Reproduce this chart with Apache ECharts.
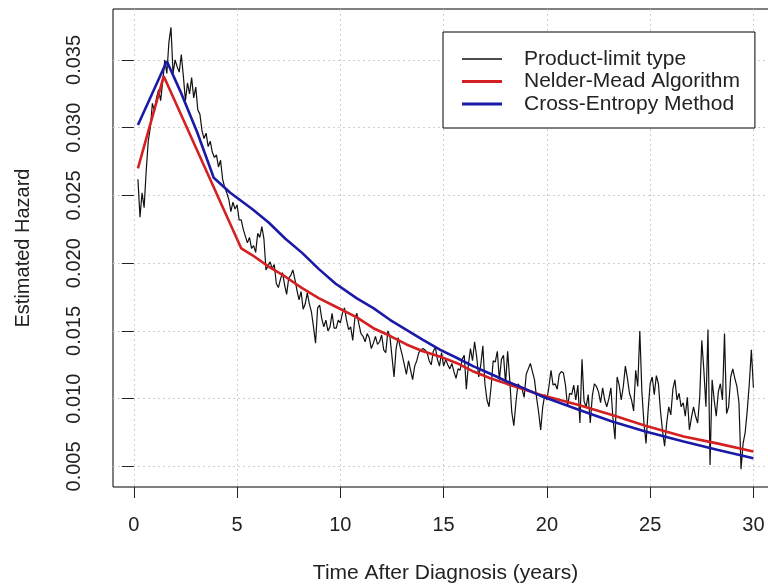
<!DOCTYPE html>
<html>
<head>
<meta charset="utf-8">
<script src="https://cdn.jsdelivr.net/npm/echarts@6/dist/echarts.min.js"></script>
<style>
  html, body { margin: 0; padding: 0; background: #ffffff; }
  #chart { width: 768px; height: 586px; }
</style>
</head>
<body>
<div id="chart"></div>
<script>
// Product-limit type hazard estimate, sampled every 0.1 years from 0.2 to 30.0
const plTimeStart = 0.2;
const plTimeStep = 0.1;
const plHazard = [
  0.0262, 0.0234, 0.0252, 0.0241, 0.0268, 0.0290, 0.0300, 0.0318, 0.0312,
  0.0322, 0.0328, 0.0320, 0.0334, 0.0350, 0.0340, 0.0363, 0.0374, 0.0340, 0.0350,
  0.0345, 0.0341, 0.0354, 0.0338, 0.0320, 0.0333, 0.0325, 0.0337, 0.0322, 0.0330,
  0.0313, 0.0310, 0.0298, 0.0292, 0.0296, 0.0286, 0.0290, 0.0282, 0.0278, 0.0280,
  0.0271, 0.0276, 0.0262, 0.0256, 0.0252, 0.0247, 0.0238, 0.0245, 0.0240, 0.0243,
  0.0232, 0.0232, 0.0225, 0.0220, 0.0215, 0.0219, 0.0211, 0.0213, 0.0208, 0.0222,
  0.0219, 0.0227, 0.0218, 0.0195, 0.0198, 0.0201, 0.0196, 0.0199, 0.0185, 0.0182,
  0.0188, 0.0193, 0.0184, 0.0177, 0.0189, 0.0191, 0.0195, 0.0188, 0.0180, 0.0173,
  0.0179, 0.0166, 0.0170, 0.0178, 0.0170, 0.0164, 0.0153, 0.0141, 0.0167, 0.0169,
  0.0159, 0.0153, 0.0158, 0.0150, 0.0153, 0.0163, 0.0152, 0.0152, 0.0158, 0.0156,
  0.0163, 0.0167, 0.0158, 0.0151, 0.0153, 0.0143, 0.0159, 0.0163, 0.0155, 0.0148,
  0.0146, 0.0142, 0.0148, 0.0145, 0.0137, 0.0141, 0.0146, 0.0140, 0.0142, 0.0147,
  0.0136, 0.0134, 0.0150, 0.0146, 0.0131, 0.0116, 0.0137, 0.0145, 0.0138, 0.0132,
  0.0125, 0.0118, 0.0128, 0.0121, 0.0114, 0.0124, 0.0128, 0.0134, 0.0136, 0.0137,
  0.0136, 0.0134, 0.0128, 0.0125, 0.0135, 0.0138, 0.0129, 0.0124, 0.0134, 0.0124,
  0.0129, 0.0125, 0.0122, 0.0126, 0.0120, 0.0115, 0.0122, 0.0121, 0.0129, 0.0132,
  0.0107, 0.0125, 0.0137, 0.0128, 0.0142, 0.0131, 0.0116, 0.0125, 0.0139, 0.0111,
  0.0099, 0.0094, 0.0109, 0.0128, 0.0127, 0.0135, 0.0114, 0.0129, 0.0132, 0.0111,
  0.0135, 0.0114, 0.0090, 0.0080, 0.0097, 0.0111, 0.0109, 0.0107, 0.0101, 0.0118,
  0.0122, 0.0126, 0.0120, 0.0114, 0.0101, 0.0090, 0.0077, 0.0094, 0.0103, 0.0099,
  0.0109, 0.0121, 0.0110, 0.0111, 0.0107, 0.0118, 0.0120, 0.0119, 0.0110, 0.0094,
  0.0104, 0.0103, 0.0110, 0.0099, 0.0110, 0.0082, 0.0129, 0.0098, 0.0094, 0.0103,
  0.0082, 0.0102, 0.0111, 0.0109, 0.0105, 0.0097, 0.0108, 0.0099, 0.0094, 0.0100,
  0.0108, 0.0085, 0.0070, 0.0116, 0.0110, 0.0099, 0.0109, 0.0124, 0.0115, 0.0104,
  0.0099, 0.0091, 0.0121, 0.0109, 0.0150, 0.0105, 0.0082, 0.0067, 0.0091, 0.0111,
  0.0116, 0.0103, 0.0117, 0.0111, 0.0091, 0.0076, 0.0065, 0.0082, 0.0094, 0.0088,
  0.0107, 0.0114, 0.0099, 0.0104, 0.0094, 0.0097, 0.0087, 0.0101, 0.0077, 0.0086,
  0.0094, 0.0087, 0.0082, 0.0101, 0.0143, 0.0121, 0.0094, 0.0151, 0.0051, 0.0114,
  0.0099, 0.0087, 0.0105, 0.0111, 0.0099, 0.0148, 0.0089, 0.0094, 0.0116, 0.0122,
  0.0115, 0.0109, 0.0097, 0.0048, 0.0067, 0.0075, 0.0091, 0.0111, 0.0136, 0.0108
];

// Fitted hazard, Nelder-Mead algorithm
const nmTimes = [0.2, 1.45, 5.2, 5.73, 6.53, 7.34, 8.15, 8.95, 9.76, 10.8, 11.6, 12.4, 13.2, 14.0,
  14.84, 15.65, 16.45, 17.26, 18.07, 18.87, 19.68, 21.54, 23.16, 24.77, 26.62, 28.24, 30.0];
const nmHazard = [0.0270, 0.0338, 0.0211, 0.0206, 0.01975, 0.0190, 0.01816, 0.01742, 0.0168, 0.0160,
  0.0152, 0.01464, 0.0140, 0.0135, 0.0131, 0.01262, 0.0120, 0.01151, 0.01109, 0.0107, 0.01029,
  0.00954, 0.0088, 0.0080, 0.0072, 0.0067, 0.0061];

// Fitted hazard, cross-entropy method
const ceTimes = [0.2, 1.6, 2.25, 3.06, 3.87, 4.67, 5.73, 6.53, 7.34, 8.15, 8.95, 9.76, 10.8, 11.6,
  12.4, 13.2, 14.0, 14.84, 15.65, 16.45, 17.26, 18.07, 18.87, 19.68, 21.54, 23.16, 24.77, 26.62, 28.24, 30.0];
const ceHazard = [0.0302, 0.0349, 0.0327, 0.0297, 0.0263, 0.0252, 0.0240, 0.0230, 0.0218, 0.02076,
  0.01958, 0.01850, 0.0174, 0.01668, 0.01582, 0.01508, 0.01434, 0.0136, 0.0130, 0.01238, 0.01184,
  0.01127, 0.01078, 0.01022, 0.00918, 0.00832, 0.00758, 0.00684, 0.00623, 0.0056];

// Axis ticks
const xTicks = [0, 5, 10, 15, 20, 25, 30];
const yTicks = [0.005, 0.010, 0.015, 0.020, 0.025, 0.030, 0.035];

const seriesNames = ['Product-limit type', 'Nelder-Mead Algorithm', 'Cross-Entropy Method'];
const seriesColors = ['#111111', '#d42020', '#1a1aa6'];

const FONT = '"Liberation Sans", Arial, Helvetica, sans-serif';
const TEXT = '#222222';

const plData = plHazard.map((v, i) => [+(plTimeStart + i * plTimeStep).toFixed(2), v]);
const nmData = nmTimes.map((t, i) => [t, nmHazard[i]]);
const ceData = ceTimes.map((t, i) => [t, ceHazard[i]]);

// Legend keys: a plain horizontal stroke inside a 40x14 box (corner points keep the box size)
const thinKey = 'path://M0,0L0,0M0,6.25H40V7.75H0ZM40,14L40,14';
const thickKey = 'path://M0,0L0,0M0,5.5H40V8.5H0ZM40,14L40,14';

const gridLine = { show: true, lineStyle: { color: '#cfcfcf', width: 1, type: [2, 3] } };

const chart = echarts.init(document.getElementById('chart'), null, { renderer: 'canvas' });
chart.setOption({
  animation: false,
  backgroundColor: '#ffffff',
  grid: {
    left: 113, top: 9, width: 665, height: 478,
    outerBoundsMode: 'none', containLabel: false,
    show: true, borderColor: '#000000', borderWidth: 1, backgroundColor: 'transparent'
  },
  xAxis: {
    type: 'value', min: -1.007, max: 31.19,
    name: 'Time After Diagnosis (years)', nameLocation: 'middle', nameGap: 76,
    nameTextStyle: { fontFamily: FONT, fontSize: 21, color: TEXT },
    axisLine: { show: false },
    axisTick: { show: true, inside: false, length: 11, customValues: xTicks, lineStyle: { color: TEXT, width: 1 } },
    axisLabel: { customValues: xTicks, margin: 28, fontFamily: FONT, fontSize: 20, color: TEXT,
      formatter: v => String(v) },
    splitLine: gridLine
  },
  yAxis: {
    type: 'value', min: 0.00348, max: 0.03876,
    name: 'Estimated Hazard', nameLocation: 'middle', nameGap: 80, nameRotate: 90,
    nameTextStyle: { fontFamily: FONT, fontSize: 20, color: TEXT },
    axisLine: { show: false },
    axisTick: { show: true, inside: false, length: 12, customValues: yTicks, lineStyle: { color: TEXT, width: 1 } },
    axisLabel: { customValues: yTicks, rotate: 90, margin: 29, fontFamily: FONT, fontSize: 20, color: TEXT,
      formatter: v => v.toFixed(3) },
    splitLine: gridLine
  },
  legend: {
    orient: 'vertical', left: 443, top: 32,
    padding: [16, 15, 13, 19],
    backgroundColor: '#ffffff', borderColor: '#000000', borderWidth: 1, borderRadius: 0,
    itemWidth: 40, itemHeight: 14, itemGap: 0.5,
    itemStyle: { borderWidth: 0 },
    textStyle: { fontFamily: FONT, fontSize: 21, color: TEXT, lineHeight: 22, padding: [0, 0, 0, 17] },
    data: [
      { name: seriesNames[0], icon: thinKey },
      { name: seriesNames[1], icon: thickKey },
      { name: seriesNames[2], icon: thickKey }
    ]
  },
  series: [
    { name: seriesNames[0], type: 'line', data: plData, showSymbol: false, symbol: 'none',
      color: seriesColors[0], lineStyle: { width: 1.2, color: seriesColors[0] }, z: 2 },
    { name: seriesNames[1], type: 'line', data: nmData, showSymbol: false, symbol: 'none',
      color: seriesColors[1], lineStyle: { width: 2.6, color: seriesColors[1] }, z: 3 },
    { name: seriesNames[2], type: 'line', data: ceData, showSymbol: false, symbol: 'none',
      color: seriesColors[2], lineStyle: { width: 2.6, color: seriesColors[2] }, z: 4 }
  ]
});
</script>
</body>
</html>
